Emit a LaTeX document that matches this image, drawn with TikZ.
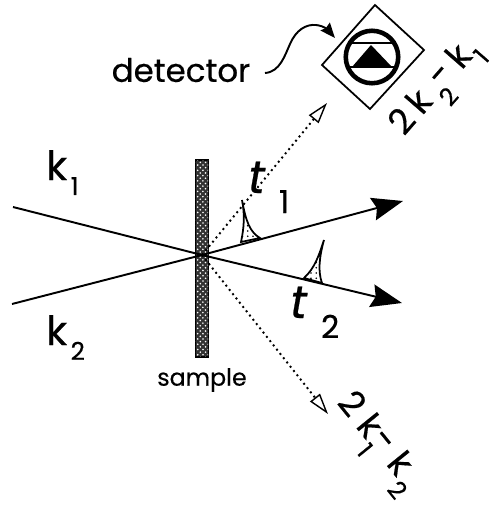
\documentclass[tikz,border=0pt]{standalone}
\usepackage{fontspec}
\setmainfont{Poppins}[FakeBold=0.5]
\usepackage{xcolor}
\usetikzlibrary{arrows.meta, patterns}

% #1 gap, #2 drop, #3 size, #4 digit
\newcommand{\lowdigit}[4]{\hspace{#1}\raisebox{-#2}{\fontsize{#3}{#3}\selectfont #4}}

\begin{document}
\begin{tikzpicture}[
    x=0.02cm, y=-0.02cm,
    beam/.style={line width=1.1pt},
    beamtip/.style={-{Stealth[length=0.62cm,width=0.46cm,inset=0.08cm]}, line width=1.1pt},
    dotbeam/.style={dotted, line width=1.1pt, -{Triangle[open, length=0.42cm, width=0.25cm, line width=0.8pt]}},
    pulse/.style={draw, line width=1pt, pattern=dots},
    label/.style={inner sep=0pt, anchor=base west, font=\fontsize{23}{23}\selectfont},
    slabel/.style={inner sep=0pt, anchor=base west, font=\fontsize{20}{20}\selectfont}
]
\useasboundingbox (0,0) rectangle (490,505);

% Sample
\node[rectangle, draw=black, line width=0.6pt, fill=black!80, postaction={pattern=crosshatch dots, pattern color=white}, minimum width=0.25cm, minimum height=3.94cm, inner sep=0pt] (sample) at (202,258.5) {};
\node[inner sep=0pt, font=\fontsize{13.5}{13.5}\selectfont] (samplelabel) at (202,380) {sample};
\coordinate (focus) at (202,255);

% Beams
\coordinate (in1) at (13,207);
\coordinate (in2) at (12,304);
\coordinate (out1) at (403,201);
\coordinate (out2) at (402,303);
\coordinate (sig1) at (327,103);
\coordinate (sig2) at (328,414);
\draw[beam] (in1) -- (focus);
\draw[beam] (in2) -- (focus);
\draw[beamtip] (focus) -- (out1);
\draw[beamtip] (focus) -- (out2);
\draw[dotbeam] (focus) -- (sig1);
\draw[dotbeam] (focus) -- (sig2);

% Pulses
\draw[pulse] (241,242) .. controls (244,228) and (245,215) .. (242,200) .. controls (246,222) and (250,232) .. (260,238) -- cycle;
\draw[pulse] (304,278) .. controls (315,268) and (319,255) .. (324,240) .. controls (319,258) and (318,272) .. (322,283) -- cycle;

% Detector
\draw[line width=1pt] (375,5) -- (424,50) -- (370,109) -- (322,65) -- cycle;
\node[circle, draw, line width=2.6pt, minimum size=1.05cm, inner sep=0pt] (det) at (372,57) {};
\draw[line width=1pt] (348,43) -- (396,43);
\draw[line width=1pt] (349,67) -- (395,67);
\fill (352,67) -- (371,45) -- (392,67) -- cycle;

% Labels
\node[inner sep=0pt, font=\fontsize{18.5}{18.5}\selectfont] (detlabel) at (181,70) {detector};
\coordinate (detstart) at (265,73);
\coordinate (dettip) at (335,38);
\draw[line width=1.1pt, -{Stealth[length=0.3cm,width=0.24cm,inset=0.03cm]}] (detstart) .. controls (280,72) and (285,55) .. (290,44) .. controls (296,30) and (306,24) .. (316,25) .. controls (325,26) and (329,31) .. (dettip);

\node[label] (k1) at (46,180) {k\lowdigit{2pt}{8.5pt}{14}{1}};
\node[label] (k2) at (46,345) {k\lowdigit{2pt}{8.5pt}{14}{2}};
\node[label, font=\fontsize{26}{26}\selectfont\itshape] (t1) at (248,193) {t\lowdigit{8pt}{11.4pt}{18}{\upshape 1}};
\node[label, font=\fontsize{26}{26}\selectfont\itshape] (t2) at (290,318) {t\lowdigit{8pt}{11.4pt}{18}{\upshape 2}};
\node[slabel, rotate=49] (sum1) at (404,137) {2\hspace{4pt}k\lowdigit{4pt}{9pt}{14}{2}\hspace{-3pt}\raisebox{2pt}{-}\hspace{4pt}k\lowdigit{1pt}{8pt}{14}{1}};
\node[slabel, rotate=-51] (sum2) at (336,403) {2\hspace{5.5pt}k\lowdigit{1.4pt}{9pt}{14}{1}\hspace{-5.4pt}\raisebox{2pt}{-}\hspace{5.7pt}k\lowdigit{1.4pt}{9pt}{14}{2}};
\end{tikzpicture}
\end{document}
